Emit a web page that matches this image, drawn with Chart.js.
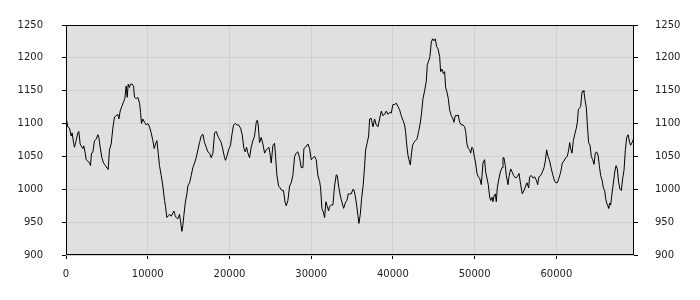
<!DOCTYPE html>
<html>
<head>
<meta charset="utf-8">
<script src="https://cdn.jsdelivr.net/npm/chart.js@4"></script>
<style>
html,body{margin:0;padding:0;background:#ffffff;}
#wrap{width:700px;height:300px;position:relative;}
</style>
</head>
<body>
<div id="wrap"><canvas id="c" width="700" height="300"></canvas></div>
<script>
const xValues = [
0,220,430,630,750,920,1040,1240,1450,1570,1730,1860,2060,2180,2350,2470,2670,2880,3000,3120,3280,3490,3690,3900,4020,4180,4390,4590,4830,5040,5160,5320,5530,5730,5940,6140,6340,6470,6630,6830,7040,7200,7360,7490,7610,7770,7890,8100,8260,8380,8590,8790,9000,9120,9240,9400,9610,9810,10020,10220,10420,10630,10790,10950,11120,11280,
11440,11650,11850,12060,12180,12340,12550,12670,12870,13080,13200,13360,13480,13690,13890,14010,14180,14300,14420,14590,14790,14910,15120,15320,15520,15730,15930,16140,16340,16540,16750,16950,17160,17360,17560,17770,17970,18180,18380,18580,18790,18990,19200,19400,19520,19730,19890,20130,20300,20500,20710,20910,21110,21360,21560,21770,21930,22090,22260,22460,22660,22870,23070,
23280,23400,23520,23680,23890,24090,24300,24500,24700,24830,24990,25110,25320,25520,25640,25810,26010,26210,26420,26620,26790,26950,27150,27360,27560,27760,27970,28170,28380,28580,28780,28990,29110,29310,29480,29600,29800,30010,30210,30420,30620,30820,31030,31150,31310,31520,31640,31800,31970,32130,32250,32460,32660,32860,33070,33190,33390,33600,33800,33970,34170,34370,34540,34700,
34900,35110,35230,35390,35560,35720,35840,36010,36170,36370,36540,36660,36860,37030,37150,37350,37560,37760,37960,38170,38370,38580,38780,38980,39190,39390,39600,39800,40000,40210,40410,40620,40820,41020,41230,41430,41550,41680,41840,41960,42130,42250,42410,42570,42740,42940,43150,43310,43470,43680,43880,44080,44210,44370,44530,44700,44860,45020,45190,45350,45510,45720,45840,46000,46170,46330,
46450,46610,46780,46940,47140,47350,47470,47630,47840,48000,48160,48370,48570,48780,48900,49060,49230,49390,49510,49670,49800,49960,50120,50290,50450,50610,50820,51020,51220,51350,51510,51670,51840,51960,52120,52240,52370,52530,52650,52770,52940,53140,53350,53470,53590,53750,53880,54080,54200,54410,54610,54770,55020,55220,55430,55630,55830,56040,56240,56410,56610,56730,56940,57140,57340,57550,57710,57870,
58080,58280,58490,58650,58810,58980,59180,59380,59590,59790,59960,60120,60320,60530,60730,60930,61140,61340,61510,61630,61750,61910,62080,62240,62440,62570,62690,62850,62970,63140,63260,63380,63510,63670,63790,63950,64120,64280,64440,64610,64770,64930,65100,65260,65420,65590,65750,65910,66030,66160,66320,66400,66520,66650,66770,66930,67140,67300,67460,67630,67790,67950,68120,68280,68440,68610,68770,68970,69090,69260,69420,69500
];
const yValues = [
1110,1095,1093,1081,1086,1071,1064,1074,1086,1088,1069,1066,1062,1066,1055,1045,1043,1040,1036,1055,1056,1074,1076,1083,1079,1064,1048,1040,1036,1032,1030,1060,1069,1093,1110,1112,1114,1107,1119,1126,1133,1138,1157,1140,1160,1155,1160,1160,1157,1140,1138,1140,1131,1117,1100,1107,1102,1098,1100,1095,1086,1074,1062,1069,1074,1055,
1036,1021,1005,983,974,957,960,962,959,964,967,960,957,955,962,952,936,945,960,979,993,1005,1010,1021,1033,1040,1048,1060,1071,1081,1084,1071,1064,1057,1055,1048,1055,1086,1088,1081,1076,1071,1060,1048,1044,1052,1060,1067,1083,1098,1100,1098,1098,1093,1083,1062,1057,1064,1055,1048,1064,1074,1081,
1102,1105,1098,1071,1079,1069,1055,1060,1062,1064,1052,1040,1067,1070,1050,1021,1005,1002,998,998,981,975,983,1005,1010,1021,1050,1055,1057,1048,1033,1033,1062,1064,1067,1069,1062,1045,1048,1050,1045,1021,1012,1002,971,964,957,981,974,967,974,976,976,1005,1022,1021,1002,988,979,971,979,983,993,993,
993,1000,999,990,976,960,948,962,986,1007,1036,1060,1071,1081,1107,1108,1095,1107,1098,1095,1107,1119,1112,1114,1119,1114,1117,1116,1129,1129,1131,1126,1121,1112,1105,1098,1088,1069,1052,1045,1037,1052,1067,1071,1074,1076,1088,1098,1112,1138,1150,1164,1190,1195,1202,1224,1229,1226,1229,1217,1214,1202,1179,1183,1176,1179,
1155,1148,1138,1121,1112,1107,1102,1112,1112,1113,1102,1098,1098,1095,1088,1069,1062,1060,1055,1064,1062,1050,1040,1024,1019,1017,1007,1040,1045,1026,1017,1007,988,983,988,981,990,993,981,1002,1014,1026,1033,1048,1048,1036,1021,1007,1019,1031,1026,1021,1017,1019,1024,1007,993,998,1005,1010,1002,1019,1021,1017,1019,1014,1007,1019,
1021,1026,1033,1043,1060,1050,1043,1031,1021,1012,1010,1010,1017,1026,1040,1043,1048,1050,1060,1071,1062,1055,1074,1083,1093,1102,1121,1124,1126,1148,1150,1148,1136,1124,1098,1071,1067,1050,1045,1038,1055,1057,1052,1036,1021,1014,1002,998,986,979,974,971,979,976,990,1005,1026,1036,1031,1010,1000,998,1017,1029,1060,1079,1083,1071,1067,1071,1076,1074
];
const yTickValues = [900, 950, 1000, 1050, 1100, 1150, 1200, 1250];
const xTickValues = [0, 10000, 20000, 30000, 40000, 50000, 60000];

const points = xValues.map((x, i) => ({ x: x, y: yValues[i] }));

const frame = {
  id: 'frame',
  beforeDraw(chart) {
    const a = chart.chartArea, ctx = chart.ctx;
    ctx.save();
    ctx.fillStyle = '#e0e0e0';
    ctx.fillRect(a.left, a.top, a.right - a.left, a.bottom - a.top);
    ctx.restore();
  },
  afterDraw(chart) {
    const a = chart.chartArea, ctx = chart.ctx;
    ctx.save();
    ctx.strokeStyle = '#000';
    ctx.lineWidth = 1;
    ctx.strokeRect(Math.round(a.left) + 0.5, Math.round(a.top) + 0.5, Math.round(a.right - a.left) - 1, Math.round(a.bottom - a.top) - 1);
    ctx.restore();
  }
};

const tickFont = { family: 'DejaVu Sans', size: 10 };
const gridColor = '#d0d0d0';

new Chart(document.getElementById('c'), {
  type: 'line',
  data: {
    datasets: [{
      data: points,
      borderColor: '#000000',
      borderWidth: 1,
      pointRadius: 0,
      tension: 0,
      fill: false
    }]
  },
  options: {
    responsive: false,
    animation: false,
    events: [],
    layout: { padding: { top: 10, left: 0, right: 0, bottom: 0 } },
    plugins: { legend: { display: false }, tooltip: { enabled: false } },
    scales: {
      x: {
        type: 'linear',
        min: 0,
        max: 69500,
        afterBuildTicks: s => { s.ticks = xTickValues.map(v => ({ value: v })); },
        afterFit: s => { s.height = 45; },
        grid: { color: gridColor, tickColor: '#000', tickLength: 4, drawOnChartArea: true },
        border: { display: false },
        ticks: { font: tickFont, color: '#222', padding: 9, maxRotation: 0, autoSkip: false, callback: v => String(v) }
      },
      y: {
        position: 'left',
        min: 900,
        max: 1250,
        afterBuildTicks: s => { s.ticks = yTickValues.map(v => ({ value: v })); },
        afterFit: s => { s.width = 66; },
        grid: { color: gridColor, tickColor: '#000', tickLength: 4 },
        border: { display: false },
        ticks: { font: tickFont, color: '#222', padding: 19, callback: v => String(v) }
      },
      y2: {
        position: 'right',
        min: 900,
        max: 1250,
        afterBuildTicks: s => { s.ticks = yTickValues.map(v => ({ value: v })); },
        afterFit: s => { s.width = 66; },
        grid: { drawOnChartArea: false, tickColor: '#000', tickLength: 4 },
        border: { display: false },
        ticks: { font: tickFont, color: '#222', padding: 17, callback: v => String(v) }
      }
    }
  },
  plugins: [frame]
});
</script>
</body>
</html>
